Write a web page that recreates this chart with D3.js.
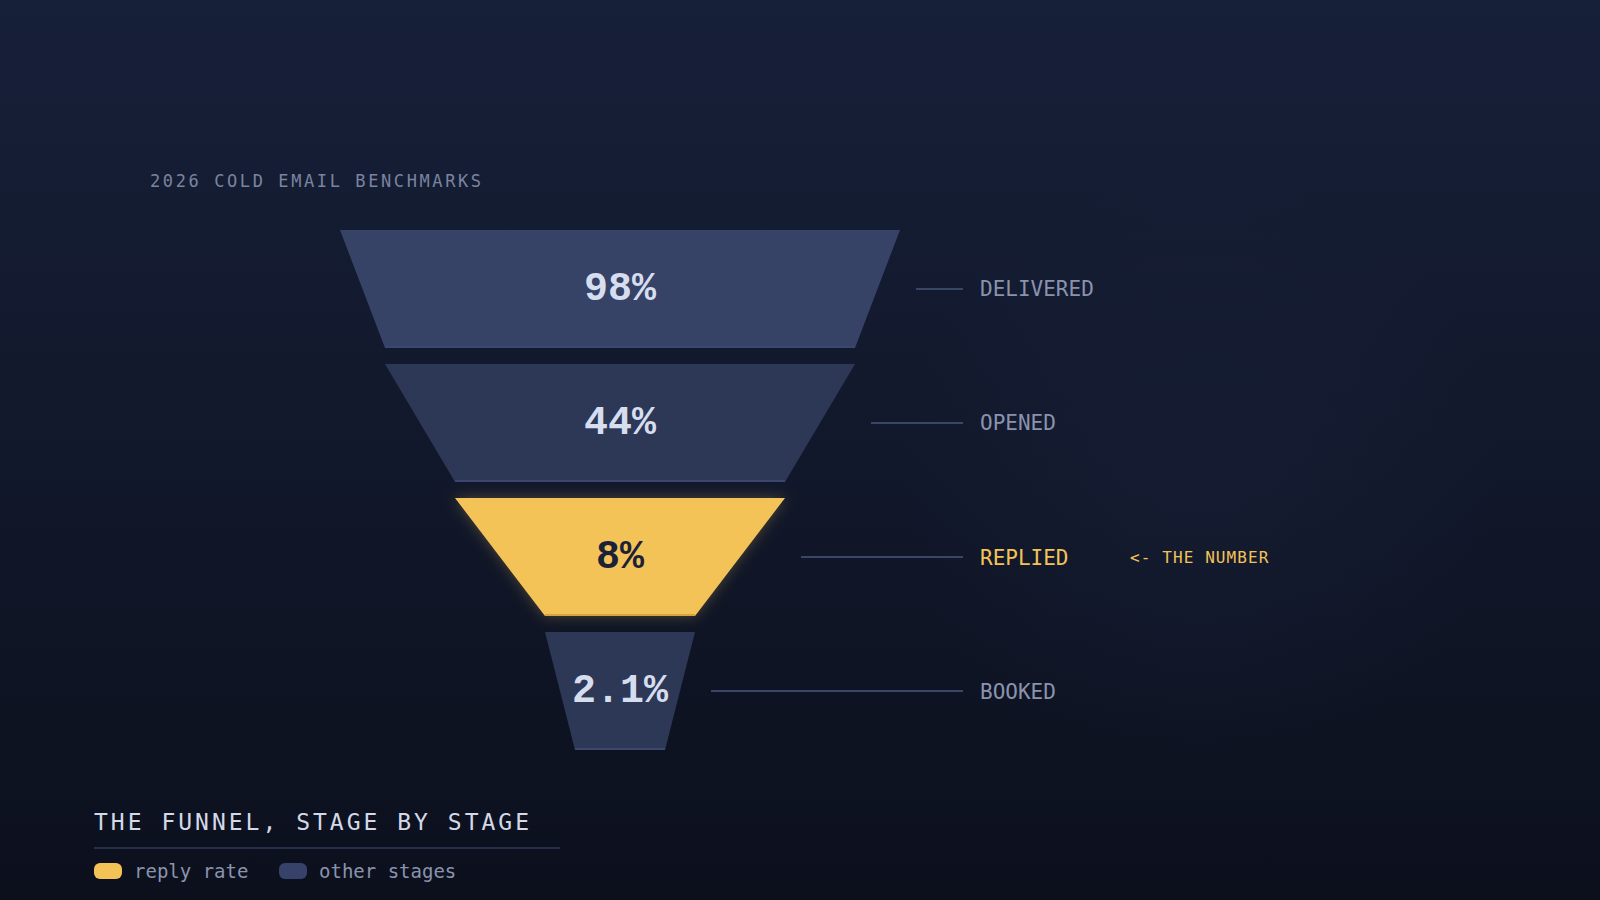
<!DOCTYPE html>
<html>
<head>
<meta charset="utf-8">
<title>cold email funnel</title>
<style>
html, body { margin:0; padding:0; background:#0c101d; }
#chart { width:1600px; height:900px; }
</style>
<script src="https://cdn.jsdelivr.net/npm/d3@7/dist/d3.min.js"></script>
</head>
<body>
<div id="chart"></div>
<script>
// data
var stages = ["DELIVERED", "OPENED", "REPLIED", "BOOKED"];
var values = [98, 44, 8, 2.1];
var valueLabels = ["98%", "44%", "8%", "2.1%"];
var highlight = "REPLIED";
var legendLabels = ["reply rate", "other stages"];

var width = 1600, height = 900;
var cx = 620;           // funnel centre
var mono = "'DejaVu Sans Mono', 'Liberation Mono', monospace";
var numFont = "'Liberation Mono', 'DejaVu Sans Mono', monospace";
var gold = "#f4c358";
var fills = ["#364266", "#2d3756", gold, "#2d3756"];

var svg = d3.select("#chart").append("svg")
  .attr("width", width)
  .attr("height", height);

var defs = svg.append("defs");

var bg = defs.append("linearGradient").attr("id", "bg")
  .attr("x1", 0).attr("y1", 0).attr("x2", 0).attr("y2", 1);
bg.append("stop").attr("offset", "0%").attr("stop-color", "#172039");
bg.append("stop").attr("offset", "100%").attr("stop-color", "#0c101d");

var glow = defs.append("radialGradient").attr("id", "glow");
glow.append("stop").attr("offset", "0%").attr("stop-color", "#1c2540").attr("stop-opacity", 0.35);
glow.append("stop").attr("offset", "70%").attr("stop-color", "#1c2540").attr("stop-opacity", 0.12);
glow.append("stop").attr("offset", "100%").attr("stop-color", "#1c2540").attr("stop-opacity", 0);

var shadow = defs.append("filter").attr("id", "goldGlow")
  .attr("x", "-30%").attr("y", "-30%").attr("width", "160%").attr("height", "160%");
shadow.append("feDropShadow")
  .attr("dx", 0).attr("dy", 0)
  .attr("stdDeviation", 7)
  .attr("flood-color", gold)
  .attr("flood-opacity", 0.28);

svg.append("rect").attr("width", width).attr("height", height).attr("fill", "url(#bg)");
svg.append("circle").attr("cx", 1200).attr("cy", 470).attr("r", 300).attr("fill", "url(#glow)");

// scales
var y = d3.scaleBand()
  .domain(stages)
  .range([230, 750])
  .paddingInner(0.12)
  .paddingOuter(0);

// funnel width per value (piecewise log scale)
var w = d3.scaleLog()
  .domain([2.1, 8, 44, 98])
  .range([150, 330, 470, 560]);

var rows = stages.map(function(s, i) {
  var top = w(values[i]);
  var bottom = i < stages.length - 1 ? w(values[i + 1]) : w(values[i]) * 0.6;
  return { stage: s, value: values[i], label: valueLabels[i], top: top, bottom: bottom, i: i };
});

// subtitle
svg.append("text")
  .attr("x", 150).attr("y", 187)
  .attr("font-family", mono)
  .attr("font-size", 17)
  .attr("letter-spacing", 2.6)
  .attr("fill", "#7a84a0")
  .text("2026 COLD EMAIL BENCHMARKS");

var g = svg.append("g");

var stage = g.selectAll("g.stage").data(rows).enter().append("g")
  .attr("class", "stage");

stage.append("path")
  .attr("d", function(d) {
    var y0 = y(d.stage), y1 = y0 + y.bandwidth();
    return "M" + (cx - d.top / 2) + "," + y0 +
           "L" + (cx + d.top / 2) + "," + y0 +
           "L" + (cx + d.bottom / 2) + "," + y1 +
           "L" + (cx - d.bottom / 2) + "," + y1 + "Z";
  })
  .attr("fill", function(d) { return fills[d.i]; })
  .attr("filter", function(d) { return d.stage === highlight ? "url(#goldGlow)" : null; });

// bottom lip
stage.append("line")
  .attr("x1", function(d) { return cx - d.bottom / 2; })
  .attr("x2", function(d) { return cx + d.bottom / 2; })
  .attr("y1", function(d) { return y(d.stage) + y.bandwidth() - 1; })
  .attr("y2", function(d) { return y(d.stage) + y.bandwidth() - 1; })
  .attr("stroke", function(d) { return d.stage === highlight ? "#d6a540" : "#3b4770"; })
  .attr("stroke-width", 2);

// values
stage.append("text")
  .attr("x", cx)
  .attr("y", function(d) { return y(d.stage) + y.bandwidth() / 2 + 11; })
  .attr("text-anchor", "middle")
  .attr("font-family", numFont)
  .attr("font-weight", "bold")
  .attr("font-size", 40)
  .attr("fill", function(d) { return d.stage === highlight ? "#1b2237" : "#d5ddef"; })
  .text(function(d) { return d.label; });

// leader lines
stage.append("line")
  .attr("x1", function(d) { return cx + d.top / 2 + 16; })
  .attr("x2", 963)
  .attr("y1", function(d) { return y(d.stage) + y.bandwidth() / 2; })
  .attr("y2", function(d) { return y(d.stage) + y.bandwidth() / 2; })
  .attr("stroke", "#3a4668")
  .attr("stroke-width", 2);

// stage names
stage.append("text")
  .attr("x", 980)
  .attr("y", function(d) { return y(d.stage) + y.bandwidth() / 2 + 7.5; })
  .attr("font-family", mono)
  .attr("font-size", 21)
  .attr("fill", function(d) { return d.stage === highlight ? gold : "#8a93ad"; })
  .text(function(d) { return d.stage; });

svg.append("text")
  .attr("x", 1130)
  .attr("y", y(highlight) + y.bandwidth() / 2 + 6)
  .attr("font-family", mono)
  .attr("font-size", 16)
  .attr("letter-spacing", 1.1)
  .attr("fill", gold)
  .text("<- THE NUMBER");

// footer title + legend
svg.append("text")
  .attr("x", 94).attr("y", 830)
  .attr("font-family", mono)
  .attr("font-size", 23)
  .attr("letter-spacing", 3)
  .attr("fill", "#d3d9e8")
  .text("THE FUNNEL, STAGE BY STAGE");

svg.append("line")
  .attr("x1", 94).attr("x2", 560)
  .attr("y1", 848).attr("y2", 848)
  .attr("stroke", "#2f3a58")
  .attr("stroke-width", 1.5);

var legendX = [94, 279];
var legendColors = [gold, "#36426a"];
var lg = svg.selectAll("g.legend").data(legendLabels).enter().append("g")
  .attr("class", "legend")
  .attr("transform", function(d, i) { return "translate(" + legendX[i] + ",863)"; });

lg.append("rect")
  .attr("width", 28).attr("height", 16)
  .attr("rx", 6).attr("ry", 6)
  .attr("fill", function(d, i) { return legendColors[i]; });

lg.append("text")
  .attr("x", 40).attr("y", 15)
  .attr("font-family", mono)
  .attr("font-size", 19)
  .attr("fill", "#8a93ad")
  .text(function(d) { return d; });
</script>
</body>
</html>
